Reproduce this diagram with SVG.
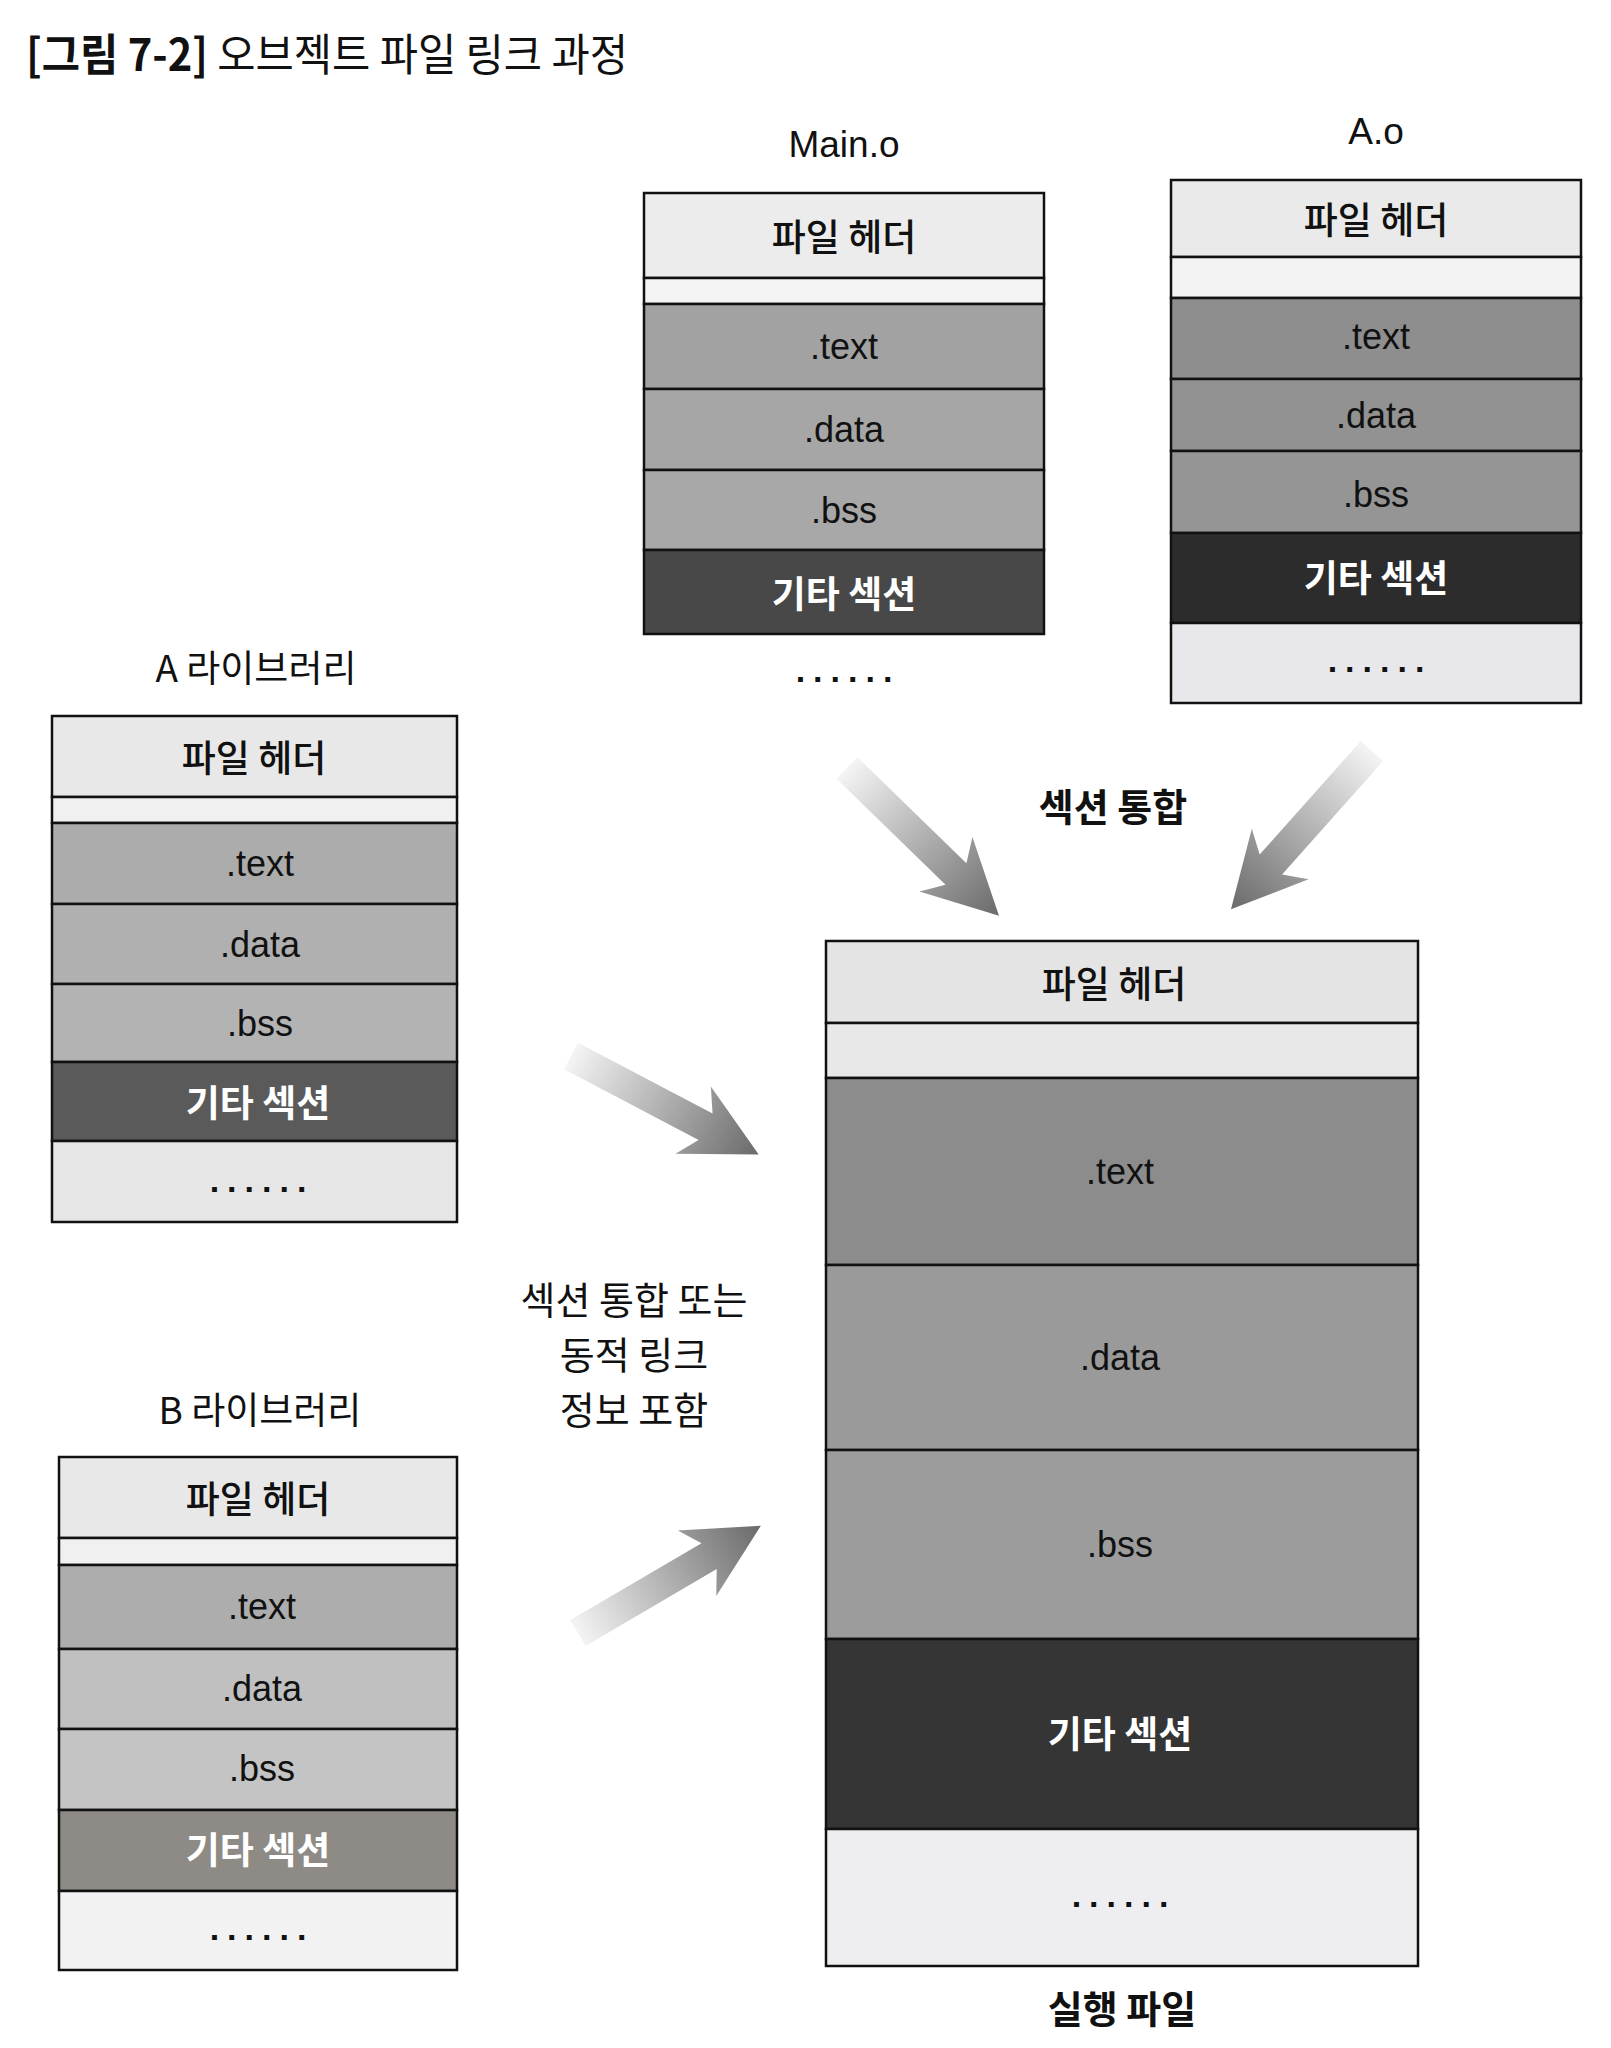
<svg xmlns="http://www.w3.org/2000/svg" width="1611" height="2048" viewBox="0 0 1611 2048">
<style>
  .ko { font-family: "Noto Sans CJK KR", "Noto Sans", sans-serif; }
  .lat { font-family: "Liberation Sans", Arial, sans-serif; }
  .sec { stroke: #111; stroke-width: 2.5; }
  .lbl { font-size: 37px; fill: #111; text-anchor: middle; dominant-baseline: central; }
  .hdr { font-size: 37px; fill: #111; font-weight: 500; text-anchor: middle; dominant-baseline: central; }
  .sname { font-size: 36px; fill: #111; text-anchor: middle; dominant-baseline: central; }
  .etc { font-size: 37px; fill: #fff; font-weight: 700; text-anchor: middle; dominant-baseline: central; }
  .dots { font-size: 34px; fill: #111; font-weight: 700; letter-spacing: 8px; text-anchor: middle; dominant-baseline: central; }
  .cap { font-size: 38px; fill: #111; text-anchor: middle; dominant-baseline: central; }
  .capb { font-size: 38px; fill: #111; font-weight: 700; text-anchor: middle; dominant-baseline: central; }
</style>
<defs>
  <linearGradient id="arrowGrad" x1="0" y1="0" x2="1" y2="0">
    <stop offset="0" stop-color="#f4f4f4"/>
    <stop offset="0.55" stop-color="#a8a8a8"/>
    <stop offset="1" stop-color="#6a6a6a"/>
  </linearGradient>
  <path id="fatArrow" d="M0,-15 L152,-15 L138,-38 L212,0 L138,38 L152,15 L0,15 Z" fill="url(#arrowGrad)"/>
</defs>
<rect x="0" y="0" width="1611" height="2048" fill="#ffffff"/>

<g id="title">
  <text class="ko" x="26" y="52" font-size="44" fill="#111" dominant-baseline="central" textLength="602" lengthAdjust="spacingAndGlyphs"><tspan font-weight="700">[그림 7-2]</tspan> 오브젝트 파일 링크 과정</text>
</g>

<g id="main-o">
  <text class="lat lbl" x="844" y="144">Main.o</text>
  <rect class="sec" x="644" y="193" width="400" height="85" fill="#ececec"/>
  <rect class="sec" x="644" y="278" width="400" height="26" fill="#f4f4f4"/>
  <rect class="sec" x="644" y="304" width="400" height="85" fill="#a2a2a2"/>
  <rect class="sec" x="644" y="389" width="400" height="81" fill="#a6a6a6"/>
  <rect class="sec" x="644" y="470" width="400" height="80" fill="#a8a8a8"/>
  <rect class="sec" x="644" y="550" width="400" height="84" fill="#484848"/>
  <text class="ko hdr" x="844" y="235">파일 헤더</text>
  <text class="lat sname" x="844" y="346">.text</text>
  <text class="lat sname" x="844" y="429">.data</text>
  <text class="lat sname" x="844" y="510">.bss</text>
  <text class="ko etc" x="844" y="592">기타 섹션</text>
  <text class="lat dots" x="848" y="670">......</text>
</g>

<g id="a-o">
  <text class="lat lbl" x="1376" y="131">A.o</text>
  <rect class="sec" x="1171" y="180" width="410" height="77" fill="#eaeaea"/>
  <rect class="sec" x="1171" y="257" width="410" height="41" fill="#f3f3f3"/>
  <rect class="sec" x="1171" y="298" width="410" height="81" fill="#8e8e8e"/>
  <rect class="sec" x="1171" y="379" width="410" height="72" fill="#929292"/>
  <rect class="sec" x="1171" y="451" width="410" height="82" fill="#959595"/>
  <rect class="sec" x="1171" y="533" width="410" height="90" fill="#2c2c2c"/>
  <rect class="sec" x="1171" y="623" width="410" height="80" fill="#e8e8ec"/>
  <text class="ko hdr" x="1376" y="218">파일 헤더</text>
  <text class="lat sname" x="1376" y="336">.text</text>
  <text class="lat sname" x="1376" y="415">.data</text>
  <text class="lat sname" x="1376" y="494">.bss</text>
  <text class="ko etc" x="1376" y="576">기타 섹션</text>
  <text class="lat dots" x="1380" y="660">......</text>
</g>

<g id="a-library">
  <text class="ko lbl" x="256" y="666">A 라이브러리</text>
  <rect class="sec" x="52" y="716" width="405" height="81" fill="#e8e8e8"/>
  <rect class="sec" x="52" y="797" width="405" height="26" fill="#f0f0f0"/>
  <rect class="sec" x="52" y="823" width="405" height="81" fill="#acacac"/>
  <rect class="sec" x="52" y="904" width="405" height="80" fill="#b0b0b0"/>
  <rect class="sec" x="52" y="984" width="405" height="78" fill="#b3b3b3"/>
  <rect class="sec" x="52" y="1062" width="405" height="79" fill="#5a5a5a"/>
  <rect class="sec" x="52" y="1141" width="405" height="81" fill="#e6e6e6"/>
  <text class="ko hdr" x="254" y="756">파일 헤더</text>
  <text class="lat sname" x="260" y="863">.text</text>
  <text class="lat sname" x="260" y="944">.data</text>
  <text class="lat sname" x="260" y="1023">.bss</text>
  <text class="ko etc" x="258" y="1101">기타 섹션</text>
  <text class="lat dots" x="262" y="1180">......</text>
</g>

<g id="b-library">
  <text class="ko lbl" x="260" y="1408">B 라이브러리</text>
  <rect class="sec" x="59" y="1457" width="398" height="81" fill="#e8e8e8"/>
  <rect class="sec" x="59" y="1538" width="398" height="27" fill="#f0f0f0"/>
  <rect class="sec" x="59" y="1565" width="398" height="84" fill="#adadad"/>
  <rect class="sec" x="59" y="1649" width="398" height="80" fill="#c0c0c0"/>
  <rect class="sec" x="59" y="1729" width="398" height="81" fill="#c4c4c4"/>
  <rect class="sec" x="59" y="1810" width="398" height="81" fill="#8e8a86"/>
  <rect class="sec" x="59" y="1891" width="398" height="79" fill="#f2f2f2"/>
  <text class="ko hdr" x="258" y="1497">파일 헤더</text>
  <text class="lat sname" x="262" y="1606">.text</text>
  <text class="lat sname" x="262" y="1688">.data</text>
  <text class="lat sname" x="262" y="1768">.bss</text>
  <text class="ko etc" x="258" y="1848">기타 섹션</text>
  <text class="lat dots" x="262" y="1928">......</text>
</g>

<g id="executable">
  <rect class="sec" x="826" y="941" width="592" height="82" fill="#e4e4e4"/>
  <rect class="sec" x="826" y="1023" width="592" height="55" fill="#e8e8e8"/>
  <rect class="sec" x="826" y="1078" width="592" height="187" fill="#8c8c8c"/>
  <rect class="sec" x="826" y="1265" width="592" height="185" fill="#9a9a9a"/>
  <rect class="sec" x="826" y="1450" width="592" height="189" fill="#9c9c9c"/>
  <rect class="sec" x="826" y="1639" width="592" height="190" fill="#353535"/>
  <rect class="sec" x="826" y="1829" width="592" height="137" fill="#eeeef0"/>
  <text class="ko hdr" x="1114" y="982">파일 헤더</text>
  <text class="lat sname" x="1120" y="1171">.text</text>
  <text class="lat sname" x="1120" y="1357">.data</text>
  <text class="lat sname" x="1120" y="1544">.bss</text>
  <text class="ko etc" x="1120" y="1732">기타 섹션</text>
  <text class="lat dots" x="1124" y="1895">......</text>
  <text class="ko capb" x="1122" y="2006">실행 파일</text>
</g>

<g id="connectors">
  <use href="#fatArrow" transform="translate(847,768) rotate(44.2)"/>
  <use href="#fatArrow" transform="translate(1372,751) rotate(131.7)"/>
  <use href="#fatArrow" transform="translate(571,1056) rotate(27.7)"/>
  <use href="#fatArrow" transform="translate(578,1633) rotate(-30.4)"/>
</g>

<g id="labels">
  <text class="ko capb" x="1113" y="804">섹션 통합</text>
  <text class="ko cap" x="634" y="1297">섹션 통합 또는</text>
  <text class="ko cap" x="634" y="1352">동적 링크</text>
  <text class="ko cap" x="634" y="1407">정보 포함</text>
</g>
</svg>
